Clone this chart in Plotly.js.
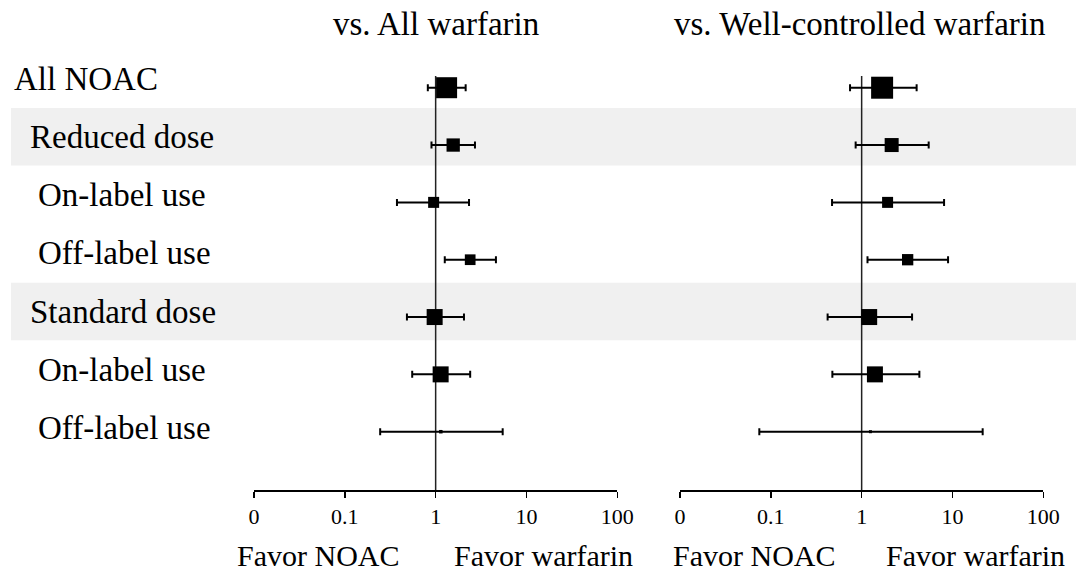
<!DOCTYPE html>
<html>
<head>
<meta charset="utf-8">
<script src="https://cdn.plot.ly/plotly-3.0.1.min.js"></script>
<style>
html,body{margin:0;padding:0;background:#fff;}
#chart{width:1076px;height:574px;}
</style>
</head>
<body>
<div id="chart"></div>
<script>
// ---- data ----
var labels = ["All NOAC","Reduced dose","On-label use","Off-label use","Standard dose","On-label use","Off-label use"];
var levels = [0,1,2,2,1,2,2];

// vs. All warfarin
var orAll = [1.32, 1.56, 0.95, 2.40, 0.975, 1.135, 1.14];
var loAll = [0.82, 0.90, 0.375, 1.26, 0.483, 0.552, 0.245];
var hiAll = [2.14, 2.71, 2.33, 4.61, 2.05, 2.40, 5.47];
var wtAll = [21, 13.3, 11, 10.7, 16, 16, 3.5];

// vs. Well-controlled warfarin
var orWc = [1.68, 2.14, 1.93, 3.21, 1.21, 1.40, 1.25];
var loWc = [0.745, 0.859, 0.472, 1.16, 0.422, 0.476, 0.0747];
var hiWc = [4.03, 5.47, 8.08, 8.94, 3.59, 4.32, 21.5];
var wtWc = [22, 14, 11, 11.3, 16, 16, 3];

var panelTitles = ["vs. All warfarin","vs. Well-controlled warfarin"];
var tickVals = [0.01, 0.1, 1, 10, 100];
var tickText = ["0","0.1","1","10","100"];
var favorLabels = ["Favor NOAC","Favor warfarin"];

// ---- build ----
var FONT = "Liberation Serif, Times New Roman, serif";
var W = 1076, H = 574;
var rows = labels.map(function(_, i){ return i; });
function labelRow(i){ return i*1.016 - 0.16; }

function panelTraces(xa, orv, lo, hi, wt){
  return [
    {type:'scatter', mode:'lines', x:[1,1], y:[-0.204, 7.017], xaxis:xa, yaxis:'y',
     line:{color:'#222', width:1.5}, hoverinfo:'skip', showlegend:false},
    {type:'scatter', mode:'markers', x:orv, y:rows, xaxis:xa, yaxis:'y', opacity:1,
     marker:{symbol:'square', color:'#000000', opacity:1, size:wt, line:{width:0, color:'#000000'}},
     error_x:{type:'data', symmetric:false,
       array: orv.map(function(v,i){ return hi[i]-v; }),
       arrayminus: orv.map(function(v,i){ return v-lo[i]; }),
       color:'#000', thickness:2, width:3.5},
     showlegend:false}
  ];
}

var data = [].concat(panelTraces('x', orAll, loAll, hiAll, wtAll),
                     panelTraces('x2', orWc, loWc, hiWc, wtWc));

var shapes = [];
var annotations = [];
var indentPx = [12, 28, 36];
labels.forEach(function(lab, i){
  if (levels[i] === 1){
    shapes.push({type:'rect', xref:'paper', yref:'y', x0:11/W, x1:1,
      y0:labelRow(i)-0.5, y1:labelRow(i)+0.5, fillcolor:'#f0f0f0', line:{width:0}, layer:'below'});
  }
  annotations.push({xref:'paper', yref:'y', x:indentPx[levels[i]]/W, y:labelRow(i),
    xanchor:'left', yanchor:'middle', text:lab, showarrow:false,
    font:{family:FONT, size:33, color:'#000'}});
});

var titleX = [435.5/W, 860.3/W];
panelTitles.forEach(function(t, k){
  annotations.push({xref:'paper', yref:'paper', x:titleX[k], y:1-24/H, xanchor:'center', yanchor:'middle',
    text:t, showarrow:false, font:{family:FONT, size:33, color:'#000'}});
});
var favorX = [[318.8/W, 543.8/W],[754.5/W, 975.7/W]];
favorX.forEach(function(pair){
  pair.forEach(function(x, j){
    annotations.push({xref:'paper', yref:'paper', x:x, y:(H-555)/H, xanchor:'center', yanchor:'middle',
      text:favorLabels[j], showarrow:false, font:{family:FONT, size:30, color:'#000'}});
  });
});

function xAxis(dom){
  return {type:'log', range:[-2,2], domain:dom, anchor:'y', showline:true, linecolor:'#000', linewidth:1.5,
    ticks:'outside', ticklen:6, tickwidth:1.5, tickcolor:'#000', tickvals:tickVals, ticktext:tickText,
    tickfont:{family:FONT, size:22, color:'#000'}, showgrid:false, zeroline:false, automargin:false, fixedrange:true};
}

var layout = {
  width:W, height:H, margin:{l:0,r:0,t:0,b:0,pad:0},
  paper_bgcolor:'#fff', plot_bgcolor:'rgba(0,0,0,0)',
  showlegend:false,
  xaxis: xAxis([254/W, 617.3/W]),
  xaxis2: Object.assign(xAxis([680/W, 1043.3/W]), {anchor:'y'}),
  yaxis: {domain:[(H-490)/H, 1], range:[7.017, -1.53], visible:false, showgrid:false, zeroline:false, fixedrange:true},
  shapes: shapes,
  annotations: annotations,
  font:{family:FONT, color:'#000'}
};

Plotly.newPlot('chart', data, layout, {displayModeBar:false, staticPlot:true});
</script>
</body>
</html>
